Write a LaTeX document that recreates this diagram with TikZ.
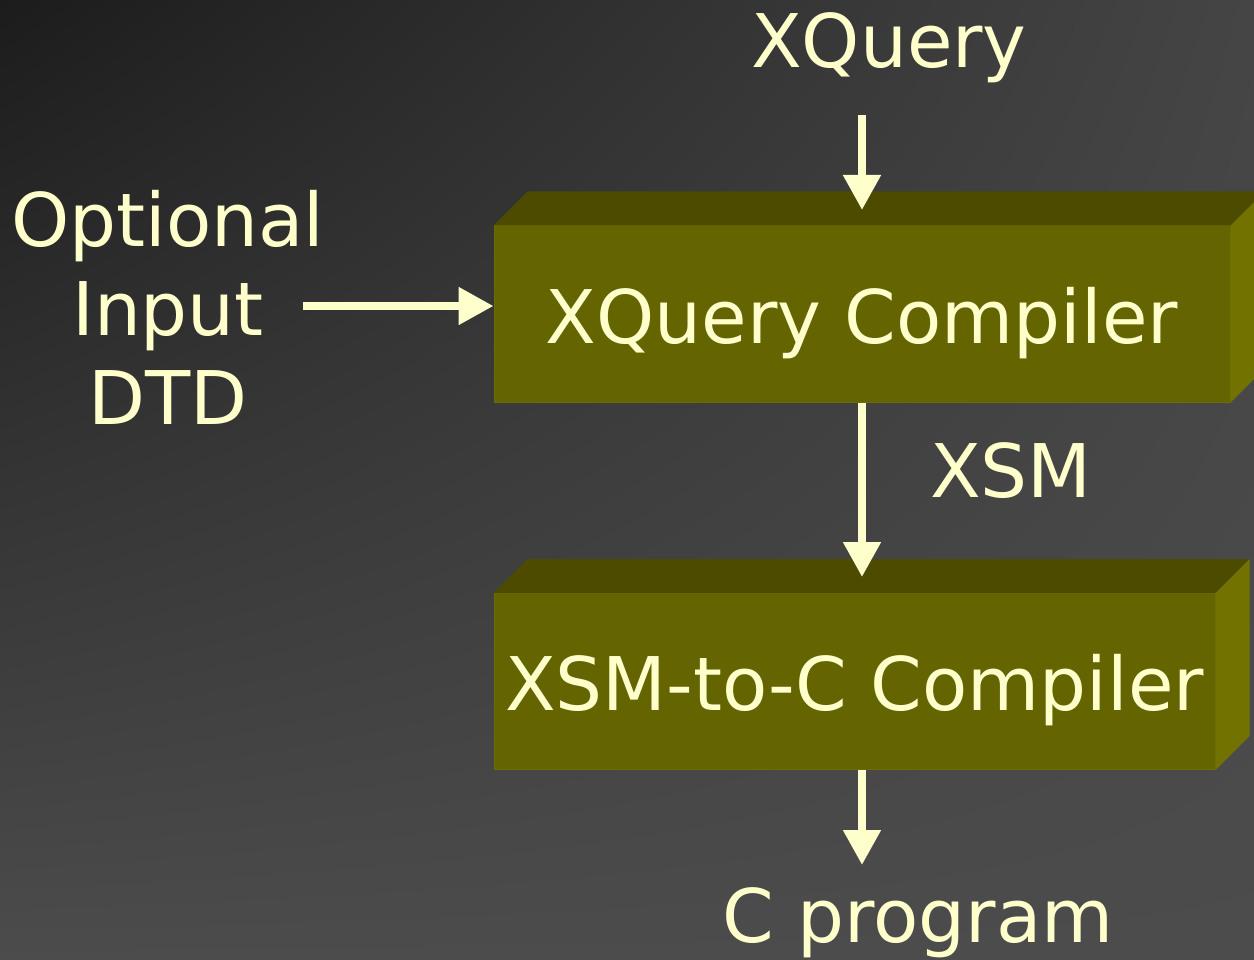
\documentclass[tikz,border=0pt]{standalone}
\usepackage{fontspec}
\setmainfont{DejaVu Sans}
\usetikzlibrary{arrows.meta,positioning,calc,shadings}
\definecolor{SlideInk}{HTML}{FFFFCC}
\definecolor{OliveFront}{HTML}{646400}
\definecolor{OliveEdge}{HTML}{6C6C00}
\definecolor{OliveTop}{HTML}{4C4B00}
\definecolor{OliveSide}{HTML}{727200}
\definecolor{BgDark}{HTML}{1C1C1C}
\definecolor{BgMid}{HTML}{454545}
\definecolor{BgLight}{HTML}{4C4C4C}

\begin{document}
\begin{tikzpicture}[x=1pt,y=-1pt,
  caption/.style={text=SlideInk,font=\fontsize{74}{89}\selectfont,inner sep=0pt},
  stage/.style={caption,fill=OliveFront,draw=OliveEdge,line width=1pt,
    text height=117pt,text depth=59pt,minimum height=176pt},
  flow/.style={-{Triangle[width=36pt,length=35pt]},line width=8pt,SlideInk}
]
  \useasboundingbox (0,0) rectangle (1254,960);
  \shade[upper left=BgDark,upper right=BgMid,lower left=BgLight,lower right=BgLight]
    (0,0) rectangle (1254,960);
  \clip (0,0) rectangle (1254,960);

  % the two compiler stages
  \node[stage,minimum width=736pt] (xqc) at (862,314) {XQuery Compiler};
  \node[stage,minimum width=721pt] (x2c) at (854.5,681.5) {XSM-to-C Compiler};
  \foreach \b in {xqc,x2c} {
    \fill[OliveTop] (\b.north west) -- ++(34,-34) -- ($(\b.north east)+(34,-34)$) -- (\b.north east) -- cycle;
    \fill[OliveSide] (\b.north east) -- ++(34,-34) -- ($(\b.south east)+(34,-34)$) -- (\b.south east) -- cycle;
  }

  % labels
  \node[caption,anchor=base] (xq) at (889,68) {XQuery};
  \node[caption,anchor=base,align=center] (dtd) at (168,424) {Optional\\Input\\DTD};
  \node[caption,anchor=base west] (xsm) at (930,497) {XSM};
  \node[caption,anchor=base] (prog) at (918,942) {C program};

  \coordinate (qtop) at (862,115);
  \coordinate (qin) at (862,210);
  \coordinate (dtdout) at (303,306);
  \coordinate (xsmin) at (862,577);
  \coordinate (cout) at (862,865);

  \draw[flow] (qtop) -- (qin);
  \draw[flow] (dtdout) -- (dtdout -| xqc.west);
  \draw[flow] (xqc.south) -- (xsmin);
  \draw[flow] (xqc.south |- x2c.south) -- (cout);
\end{tikzpicture}
\end{document}
